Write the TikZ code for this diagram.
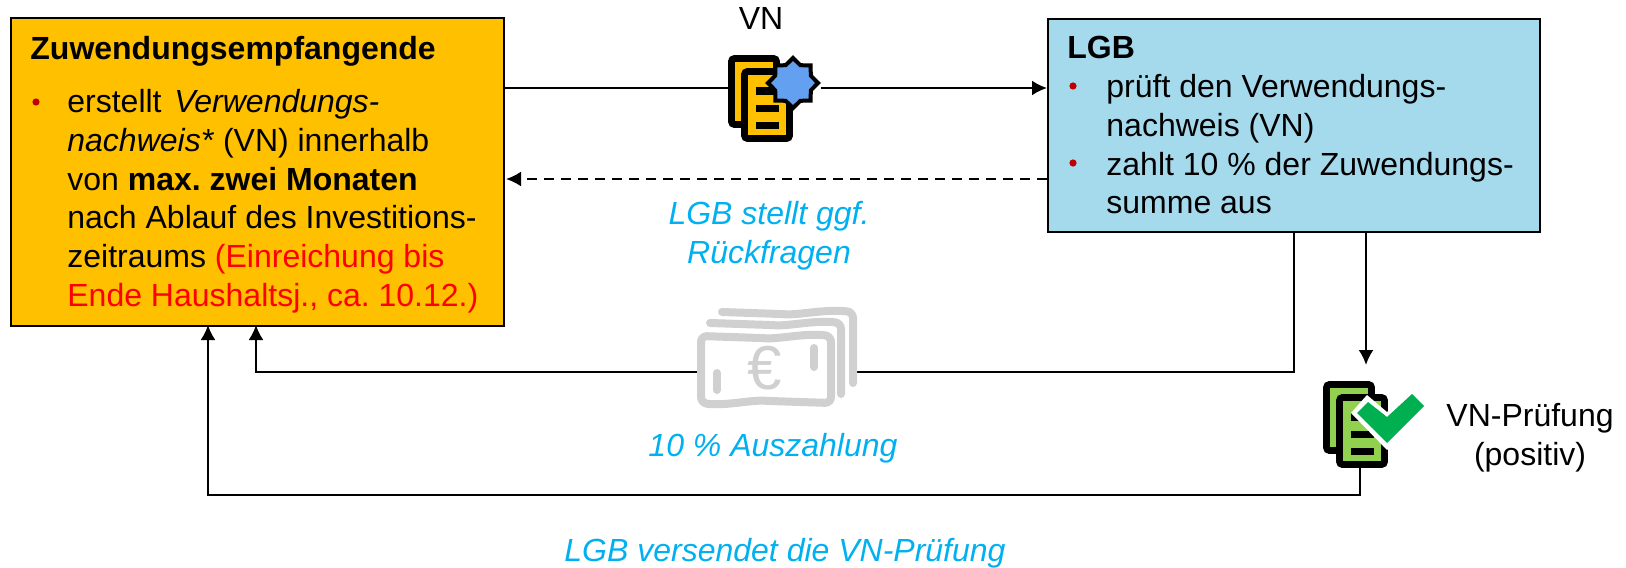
\documentclass[tikz,border=0pt]{standalone}
\usepackage{fontspec}
\setmainfont{Liberation Sans}
\usetikzlibrary{arrows.meta}
\usetikzlibrary{shapes.geometric}
\definecolor{boxorange}{HTML}{FFC000}
\definecolor{boxblue}{HTML}{A5D9EC}
\definecolor{notered}{HTML}{FF0000}
\definecolor{bulletred}{HTML}{C00000}
\definecolor{noteblue}{HTML}{00B0F0}
\definecolor{docgreen}{HTML}{92D050}
\definecolor{checkgreen}{HTML}{00B050}
\definecolor{badgeblue}{HTML}{64A0F0}
\definecolor{moneygray}{HTML}{D0D0D0}
\frenchspacing
\tikzset{
box/.style={draw=black, line width=1.2pt, inner sep=0pt},
boxtext/.style={anchor=north west, inner sep=0pt, align=left, font=\fontsize{16}{19.4}\selectfont},
boxtitle/.style={boxtext, font=\fontsize{16}{19.4}\selectfont\bfseries},
listdot/.style={circle, fill=bulletred, inner sep=0pt, minimum size=3.6pt},
label/.style={inner sep=0pt, align=center, font=\fontsize{16}{19.4}\selectfont},
note/.style={label, text=noteblue, font=\fontsize{16}{19.4}\selectfont\itshape},
line/.style={black, line width=1.1pt},
arr/.style={line, -{Latex[length=7.5pt,width=7.5pt]}},
sheet/.style={draw=black, line width=3.4pt, rounded corners=1.5pt},
bar/.style={fill=black},
money/.style={draw=moneygray, line width=4pt, line cap=round, line join=round, rounded corners=3pt},
}
\newcommand{\docicon}[3]{%
    \draw[sheet, fill=#3] (#1+3.5,#2+3.5) rectangle (#1+48.5,#2+69.5);
    \draw[sheet, fill=#3] (#1+16.5,#2+16.5) rectangle (#1+61.5,#2+83.5);
    \fill[bar] (#1+28,#2+32) rectangle (#1+51,#2+40);
    \fill[bar] (#1+28,#2+50) rectangle (#1+51,#2+57);
    \fill[bar] (#1+28,#2+67) rectangle (#1+51,#2+74);
}
\begin{document}
\begin{tikzpicture}[x=0.5pt, y=-0.5pt]
    \useasboundingbox (0,0) rectangle (1626,567);

    % boxes
    \node[box, fill=boxorange, minimum width=246.5pt, minimum height=154pt, anchor=north west] (zuw) at (10,17) {};
    \node[box, fill=boxblue, minimum width=246pt, minimum height=106.5pt, anchor=north west] (lgb) at (1047,18) {};

    % box texts
    \node[boxtitle] (zuwtitle) at (30,36) {Zuwendungsempfangende};
    \node[listdot] (zuwdot) at (36,102) {};
    \node[boxtext] (zuwbody) at (67,89) {erstellt\hspace{6.3pt}\textit{Verwendungs-}\\
        \textit{nachweis*} (VN) innerhalb\\
        von \textbf{max. zwei Monaten}\\
        nach Ablauf des Investitions-\\
        zeitraums \textcolor{notered}{(Einreichung bis}\\
        \textcolor{notered}{Ende Haushaltsj., ca. 10.12.)}};
    \node[boxtitle] (lgbtitle) at (1067,36) {LGB};
    \node[listdot] (lgbdota) at (1073,86) {};
    \node[listdot] (lgbdotb) at (1073,163) {};
    \node[boxtext] (lgbbody) at (1106,74) {prüft den Verwendungs-\\
        nachweis (VN)\\
        zahlt 10 \% der Zuwendungs-\\
        summe aus};

    % connector ends
    \coordinate (docin) at (728,88);
    \coordinate (docout) at (821,88);
    \coordinate (moneyin) at (857,372);
    \coordinate (moneyout) at (697,372);
    \coordinate (checkdoc) at (1360,467);
    \coordinate (checktop) at (1366,365);

    % connectors
    \draw[line] (zuw.east |- docin) -- (docin);
    \draw[arr] (docout) -- (lgb.west |- docout);
    \draw[arr, dash pattern=on 5pt off 3.5pt] (lgb.west |- 0,179) -- (506,179);
    \draw[line] (1294,231) |- (moneyin);
    \draw[arr] (moneyout) -| (256,325);
    \draw[arr] (1366,231) -- (checktop);
    \draw[arr] (checkdoc) |- (208,495) -- (208,325);

    % document icons
    \docicon{728}{55}{boxorange}
    \node[star, star points=8, star point ratio=1.3, minimum size=25pt, inner sep=0pt, draw=black, line width=2pt, fill=badgeblue] (badge) at (793,83) {};
    \docicon{1323}{381}{docgreen}
    \fill[white] (1351,413) -- (1367,395) -- (1387,412) -- (1412,388) -- (1431,406) -- (1387,450) -- cycle;
    \fill[checkgreen] (1357,413) -- (1368,402) -- (1387,417) -- (1412,394) -- (1424,406) -- (1387,443) -- cycle;

    % money icon
    \draw[money] (722,312) -- (780,314) .. controls (800,315) and (825,309) .. (853,312) -- (853,383);
    \draw[money] (710,323) -- (770,325) .. controls (790,326) and (815,320) .. (841,323) -- (841,394);
    \draw[money, fill=white] (701,336) -- (760,338) .. controls (780,339) and (805,333) .. (831,336) -- (831,403) -- (770,401) .. controls (750,400) and (725,406) .. (701,403) -- cycle;
    \draw[money] (717,373) -- (717,390);
    \draw[money] (814,348) -- (814,367);
    \node[text=moneygray, font=\fontsize{31}{31}\selectfont] (euro) at (765,368) {€};

    % labels
    \node[label] (vnlabel) at (761,18) {VN};
    \node[note] (rueck) at (769,236) {LGB stellt ggf.\\Rückfragen};
    \node[note] (auszahlung) at (773,448) {10 \% Auszahlung};
    \node[note] (versand) at (785,553) {LGB versendet die VN-Prüfung};
    \node[label] (pruefung) at (1530,438) {VN-Prüfung\\(positiv)};
\end{tikzpicture}
\end{document}
